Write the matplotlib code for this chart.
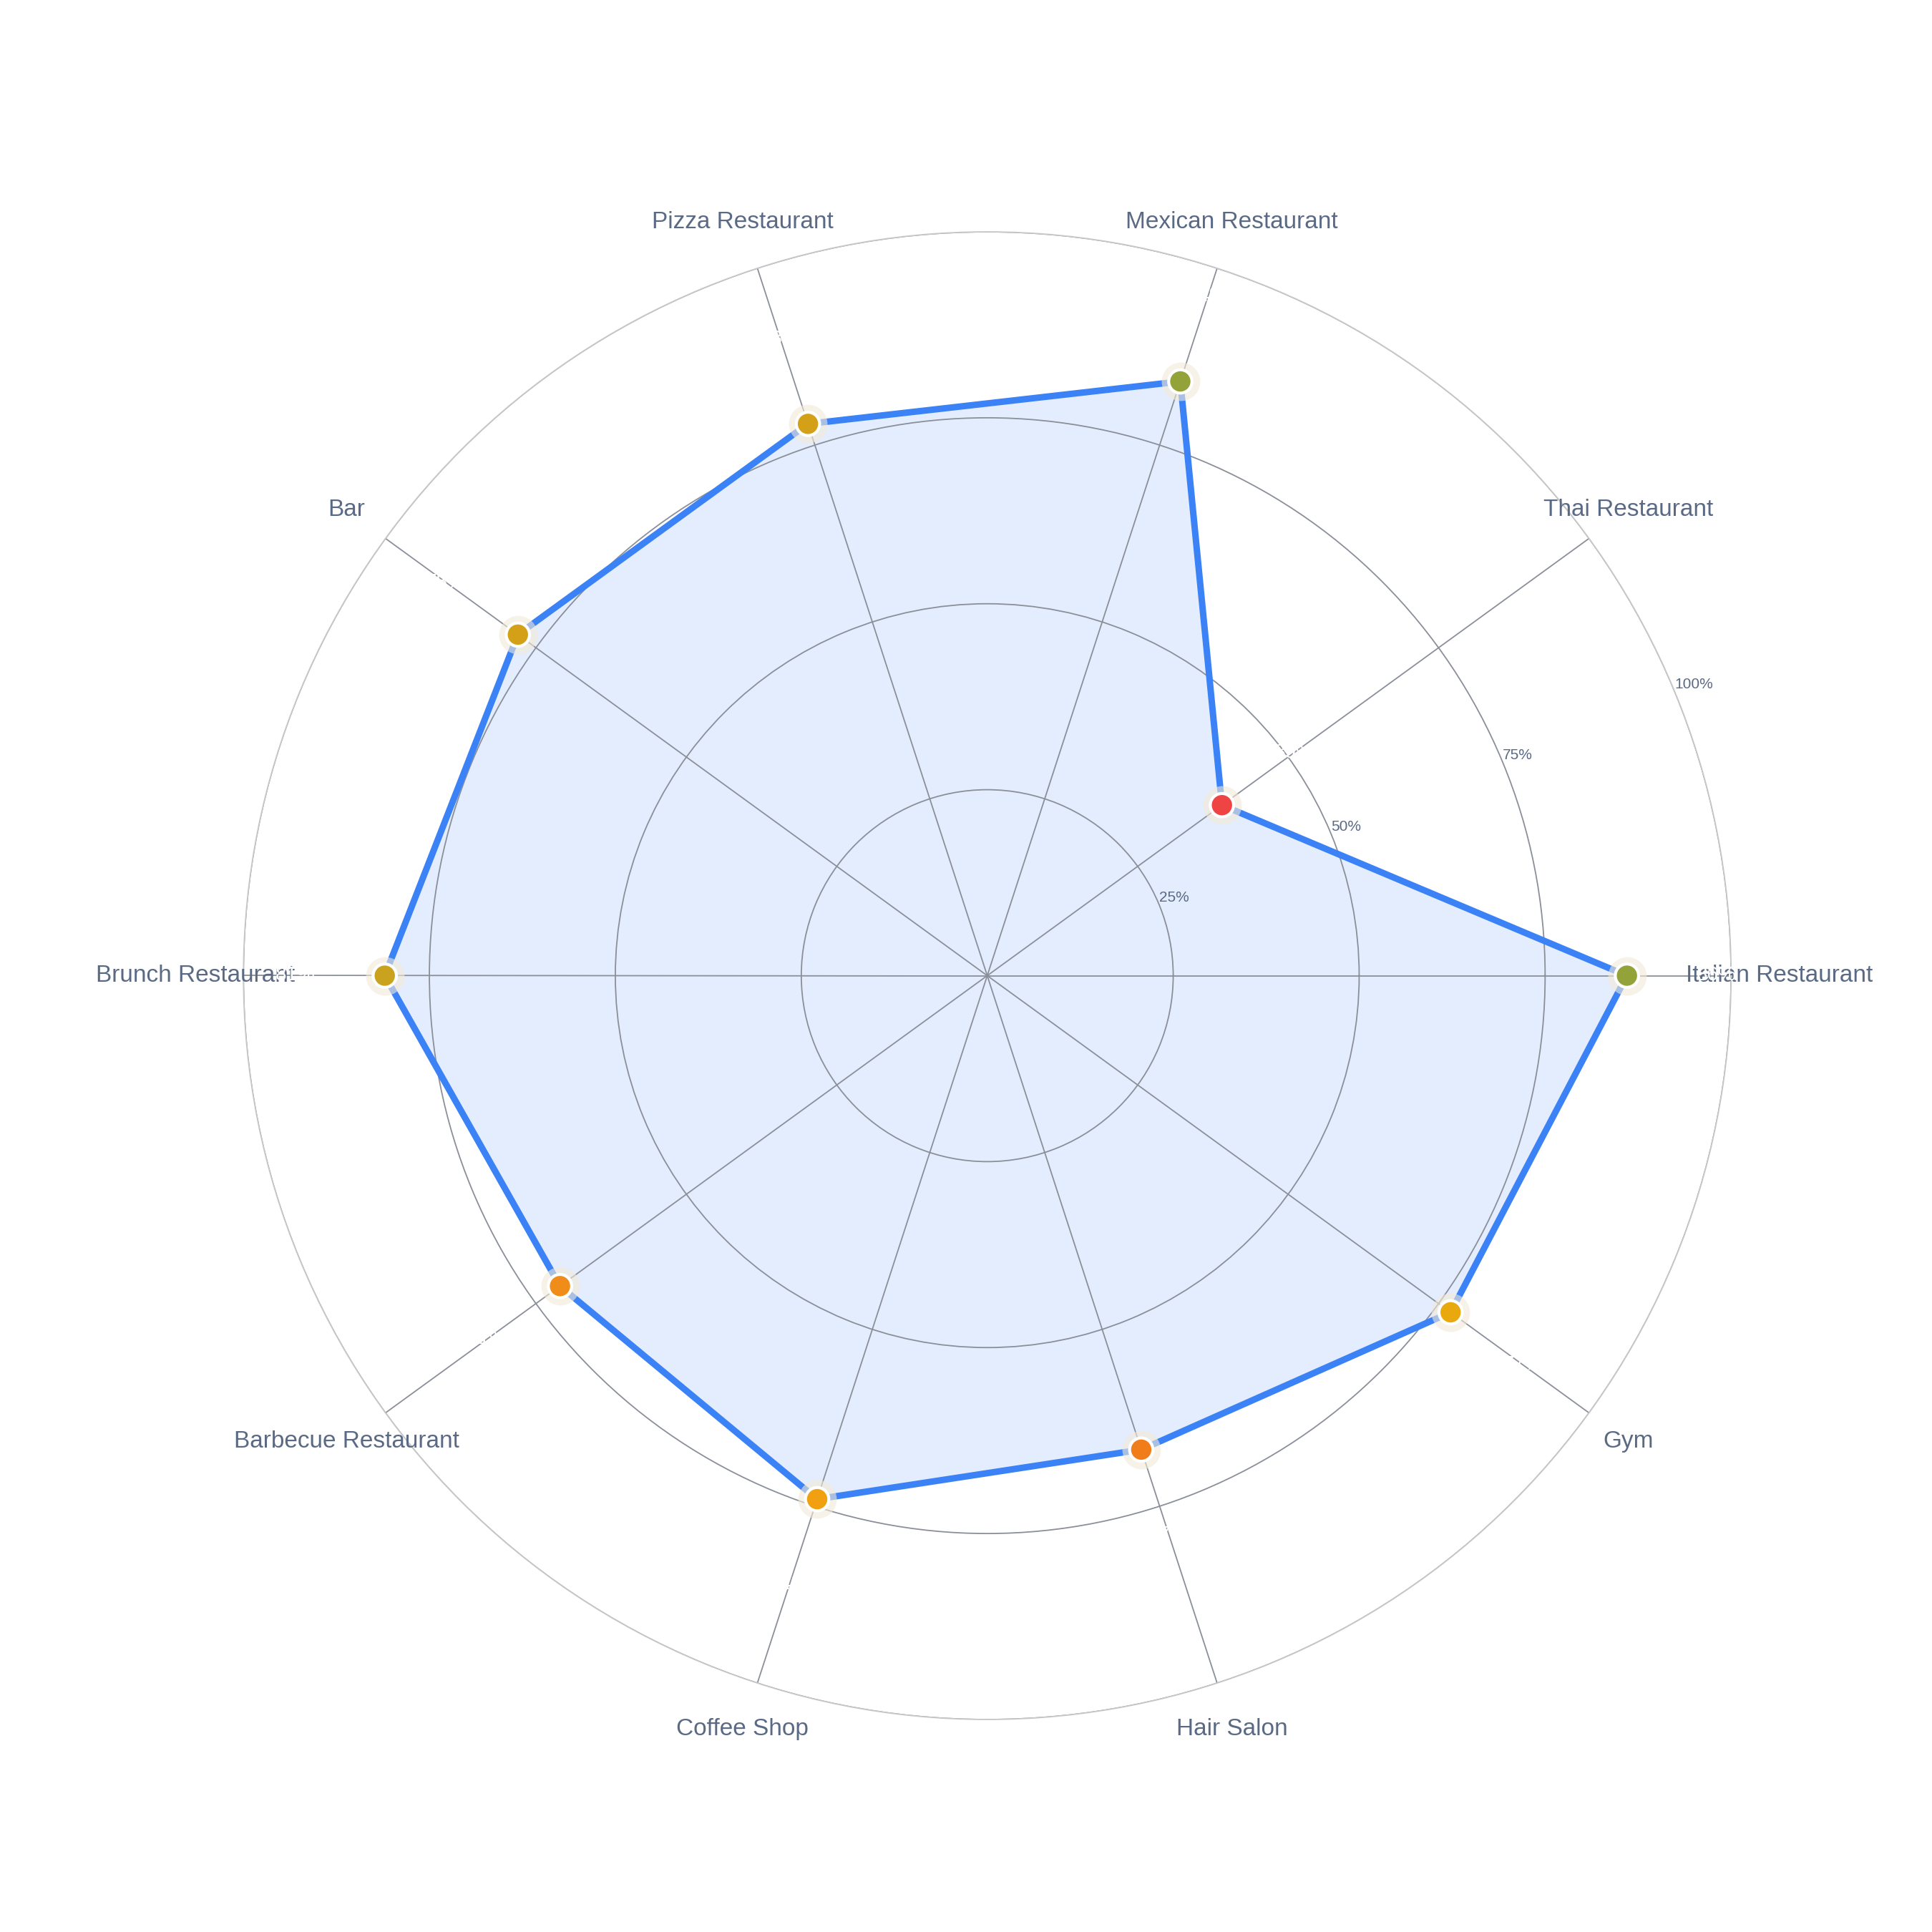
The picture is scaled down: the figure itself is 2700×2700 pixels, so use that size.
import numpy as np
import matplotlib
matplotlib.use("Agg")
import matplotlib.pyplot as plt

categories = ["Italian Restaurant", "Thai Restaurant", "Mexican Restaurant", "Pizza Restaurant",
              "Bar", "Brunch Restaurant", "Barbecue Restaurant", "Coffee Shop", "Hair Salon", "Gym"]
values = [86, 39, 84, 78, 78, 81, 71, 74, 67, 77]
marker_colors = ["#94a23a", "#ef4444", "#94a23a", "#d4a017", "#d4a017", "#c9a31e",
                 "#f08c1a", "#f0a010", "#f07d1a", "#e8a80e"]
rticks = [25, 50, 75, 100]

plt.rcParams['font.family'] = ['Liberation Sans', 'DejaVu Sans']
fig = plt.figure(figsize=(27, 27), dpi=100)
ax = fig.add_axes([0.126, 0.11, 0.77, 0.77], projection='polar')
n = len(categories)
theta = np.deg2rad(np.arange(n) * 360 / n)
r = np.array(values) / 100
tc = np.append(theta, theta[0]); rc = np.append(r, r[0])
ax.fill(tc, rc, color="#dbe8fd", alpha=0.75, zorder=1)
ax.plot(tc, rc, color="#3b82f6", lw=6.5, zorder=3)
ax.scatter(theta, r, s=1500, color="#f3ead8", alpha=0.6, zorder=4, linewidths=0)
ax.scatter(theta, r, s=550, c=marker_colors, edgecolors="white", linewidths=3, zorder=5)
for t, rv, v in zip(theta, r, values):
    ax.text(t, rv + 0.12, f"{v}%", color="white", fontsize=20, ha="center", va="center", zorder=6)
for t, c in zip(theta, categories):
    ax.text(t, 1.065, c, color="#5a6a85", fontsize=24, ha="center", va="center")
ax.set_ylim(0, 1)
ax.set_xticks(theta)
ax.set_xticklabels([])
ax.set_yticks([v / 100 for v in rticks])
ax.set_yticklabels([f"{v}%" for v in rticks], fontsize=15, color="#5a6a85")
ax.set_rlabel_position(22.5)
ax.grid(True, color="#8a8f99", lw=1.3)
ax.spines['polar'].set_color("#c8c8c8")
ax.spines['polar'].set_linewidth(1.3)
ax.set_facecolor("white")
fig.savefig("out.png", dpi=100, facecolor="white")
